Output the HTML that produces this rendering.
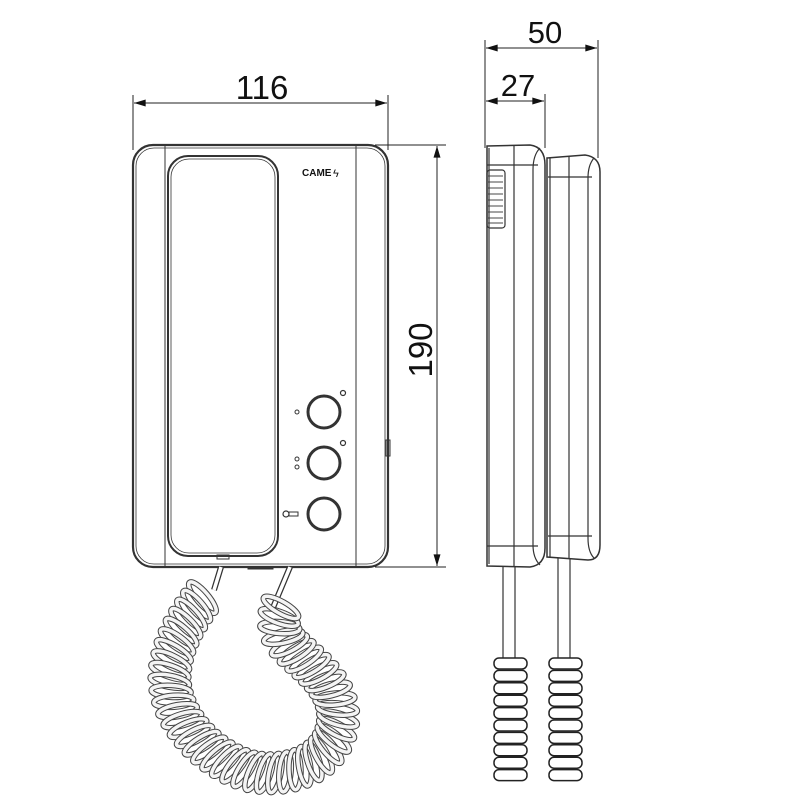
<!DOCTYPE html>
<html><head><meta charset="utf-8"><style>
html,body{margin:0;padding:0;background:#fff;}
svg{display:block;}
text{font-family:"Liberation Sans",sans-serif;fill:#111;}
</style></head><body>
<svg id="s" width="800" height="800" viewBox="0 0 800 800" xmlns="http://www.w3.org/2000/svg">
<defs>
<marker id="a" viewBox="0 0 10 6" refX="10" refY="3" markerWidth="14" markerHeight="7" markerUnits="userSpaceOnUse" orient="auto-start-reverse"><path d="M0,0 L10,3 L0,6 z" fill="#111"/></marker>
</defs>
<g stroke="#222" fill="none" stroke-width="1">
<line x1="133" y1="95" x2="133" y2="150"/>
<line x1="388" y1="95" x2="388" y2="150"/>
<line x1="134" y1="103" x2="387" y2="103" marker-start="url(#a)" marker-end="url(#a)"/>
<line x1="375" y1="145" x2="446" y2="145"/>
<line x1="375" y1="567" x2="446" y2="567"/>
<line x1="437" y1="146" x2="437" y2="566" marker-start="url(#a)" marker-end="url(#a)"/>
<line x1="485" y1="40" x2="485" y2="148"/>
<line x1="598" y1="40" x2="598" y2="158"/>
<line x1="545" y1="94" x2="545" y2="148"/>
<line x1="486" y1="48" x2="597" y2="48" marker-start="url(#a)" marker-end="url(#a)"/>
<line x1="486" y1="101" x2="544" y2="101" marker-start="url(#a)" marker-end="url(#a)"/>
</g>
<text x="262" y="99" font-size="33" text-anchor="middle">116</text>
<text x="545" y="43" font-size="31" text-anchor="middle">50</text>
<text x="518" y="96" font-size="31" text-anchor="middle">27</text>
<text transform="translate(432,350) rotate(-90)" font-size="33" text-anchor="middle">190</text>

<g stroke="#333" fill="none">
<rect x="133" y="145" width="255" height="422" rx="20" stroke-width="2.2"/>
<rect x="136" y="148" width="249" height="416" rx="18" stroke-width="0.8"/>
<line x1="165" y1="146" x2="165" y2="566" stroke-width="1"/>
<line x1="356" y1="146" x2="356" y2="566" stroke-width="1"/>
<rect x="168" y="156" width="110" height="400" rx="20" stroke-width="2"/>
<rect x="171" y="159" width="104" height="394" rx="18" stroke-width="0.8"/>
<rect x="386" y="440" width="4" height="16" stroke-width="1"/>
<circle cx="324" cy="412" r="16" stroke-width="3"/>
<circle cx="324" cy="463" r="16" stroke-width="3"/>
<circle cx="324" cy="514" r="16" stroke-width="3"/>
<circle cx="343" cy="393" r="2.5" stroke-width="1.2"/>
<circle cx="343" cy="443" r="2.5" stroke-width="1.2"/>
<circle cx="297" cy="412" r="2" stroke-width="1"/>
<circle cx="297" cy="459" r="2" stroke-width="1"/>
<circle cx="297" cy="467" r="2" stroke-width="1"/>
<circle cx="286" cy="514" r="3" stroke-width="1.2"/>
<rect x="289" y="512" width="9" height="4" stroke-width="1"/>
<rect x="217" y="555" width="12" height="4" stroke-width="1"/>
<rect x="248" y="567" width="25" height="2" fill="#333"/>
</g>
<text x="302" y="176" font-size="10" font-weight="bold" fill="#333">CAME</text>
<text x="333" y="177" font-size="11" fill="#333">ϟ</text>

<g stroke="#333" fill="none" stroke-width="1.2">
<path d="M487,146 L530,145 Q545,147 545,165 L545,548 Q545,565 530,567 L487,566 Z" stroke-width="1.5"/>
<line x1="489" y1="148" x2="489" y2="564"/>
<line x1="514" y1="145" x2="514" y2="567"/>
<line x1="487" y1="165" x2="538" y2="165"/>
<line x1="487" y1="546" x2="538" y2="546"/>
<path d="M540,148 Q533,155 533,170 L533,545 Q533,558 540,565"/>
<rect x="487" y="170" width="18" height="58" rx="3"/>
<g stroke-width="0.9">
<line x1="488" y1="176" x2="503" y2="176"/><line x1="488" y1="182" x2="503" y2="182"/>
<line x1="488" y1="188" x2="503" y2="188"/><line x1="488" y1="194" x2="503" y2="194"/>
<line x1="488" y1="200" x2="503" y2="200"/><line x1="488" y1="206" x2="503" y2="206"/>
<line x1="488" y1="212" x2="503" y2="212"/><line x1="488" y1="218" x2="503" y2="218"/>
<line x1="488" y1="223" x2="503" y2="223"/>
</g>
<path d="M547,158 L585,155 Q600,157 600,172 L600,545 Q600,560 588,560 L547,557 Z" stroke-width="1.5"/>
<line x1="550" y1="158" x2="550" y2="557"/>
<line x1="569" y1="156" x2="569" y2="558"/>
<line x1="548" y1="177" x2="592" y2="177"/>
<line x1="548" y1="536" x2="592" y2="536"/>
<path d="M594,158 Q588,165 588,178 L588,538 Q588,552 594,558"/>
<line x1="503" y1="567" x2="503" y2="660"/><line x1="515" y1="567" x2="515" y2="660"/>
<line x1="558" y1="558" x2="558" y2="660"/><line x1="570" y1="558" x2="570" y2="660"/>
</g>
<g id="coils" stroke="#222" fill="#fff" stroke-width="1.5"></g>
<g id="spiral"></g>
<path id="cp" d="M218,572 C205,600 175,625 170,670 C165,720 215,765 255,772 C295,778 335,760 338,720 C340,680 300,660 285,640 C272,620 283,600 295,570" fill="none" stroke="none"/>
</svg>
<script>
(function(){
var ns="http://www.w3.org/2000/svg";
var g=document.getElementById("coils");
function seg(x){for(var i=0;i<10;i++){var r=document.createElementNS(ns,"rect");r.setAttribute("x",x);r.setAttribute("y",658+i*12.4);r.setAttribute("width",33);r.setAttribute("height",11);r.setAttribute("rx",5);g.appendChild(r);}}
seg(494);seg(549);
var p=document.getElementById("cp"),sp=document.getElementById("spiral");
var L=p.getTotalLength();
var ln=document.createElementNS(ns,"path");
ln.setAttribute("d","M221,567 L214,590 M290,567 L272,610");ln.setAttribute("stroke","#333");ln.setAttribute("stroke-width","6");ln.setAttribute("fill","none");sp.appendChild(ln);
var ln2=ln.cloneNode();ln2.setAttribute("stroke","#fff");ln2.setAttribute("stroke-width","3.5");sp.appendChild(ln2);
var start=30,end=L-40,n=46;
for(var i=0;i<=n;i++){var t=start+(end-start)*i/n;var a=p.getPointAtLength(t),b=p.getPointAtLength(Math.min(t+1,L));
var ang=Math.atan2(b.y-a.y,b.x-a.x)*180/Math.PI;
var e=document.createElementNS(ns,"ellipse");e.setAttribute("cx",a.x);e.setAttribute("cy",a.y);e.setAttribute("rx",6);e.setAttribute("ry",20);
e.setAttribute("transform","rotate("+(ang+15)+" "+a.x+" "+a.y+")");e.setAttribute("fill","none");e.setAttribute("stroke","#444");e.setAttribute("stroke-width","5.5");sp.appendChild(e);
var e2=e.cloneNode();e2.setAttribute("stroke","#f4f4f4");e2.setAttribute("stroke-width","3.5");sp.appendChild(e2);}
})();
</script>
</body></html>
